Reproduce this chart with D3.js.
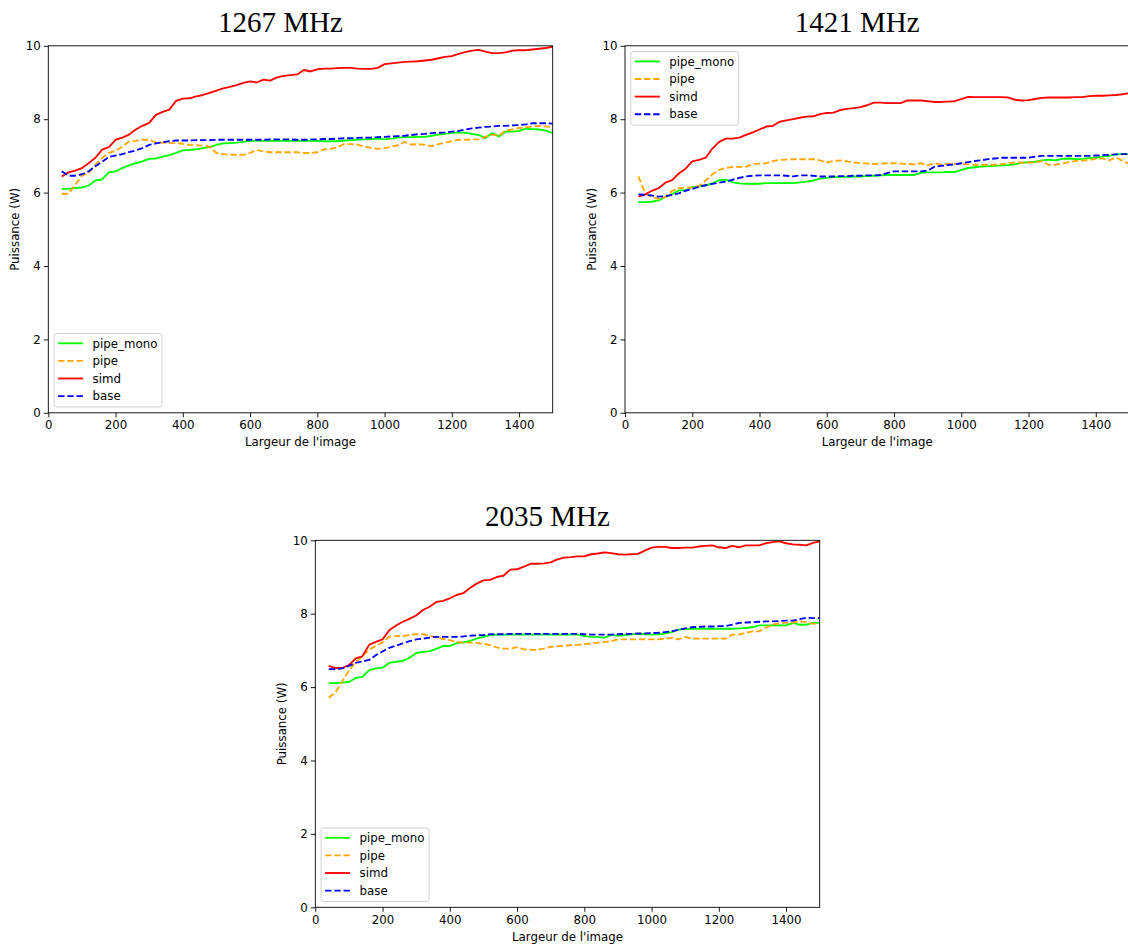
<!DOCTYPE html>
<html><head><meta charset="utf-8">
<script src="https://cdn.jsdelivr.net/npm/d3@7"></script>
<style>
html,body{margin:0;padding:0;background:#fff;}
svg{display:block;}
text{font-family:"DejaVu Sans",sans-serif;fill:#000;}
</style></head>
<body><svg id="chart" width="1128" height="946"></svg>
<script>
// ---- data ----
const largeurs = d3.range(40, 1501, 20); // image widths (x values)
const xTicks = [0, 200, 400, 600, 800, 1000, 1200, 1400];
const yTicks = [0, 2, 4, 6, 8, 10];
const seriesNames = ["pipe_mono", "pipe", "simd", "base"];
const titles = ["1267 MHz", "1421 MHz", "2035 MHz"];

const f1267_pipe_mono = [6.10,6.10,6.12,6.14,6.19,6.33,6.36,6.55,6.58,6.67,
 6.74,6.80,6.85,6.92,6.93,6.98,7.02,7.08,7.15,7.16,
 7.18,7.21,7.24,7.30,7.34,7.35,7.36,7.38,7.41,7.41,
 7.41,7.41,7.41,7.41,7.41,7.41,7.41,7.41,7.41,7.40,
 7.40,7.40,7.42,7.43,7.44,7.45,7.46,7.47,7.45,7.47,
 7.50,7.51,7.51,7.52,7.52,7.55,7.58,7.60,7.62,7.64,
 7.63,7.60,7.57,7.49,7.62,7.53,7.66,7.66,7.68,7.74,
 7.73,7.72,7.69,7.62];
const f1267_pipe = [5.97,5.97,6.21,6.46,6.53,6.76,6.94,7.08,7.14,7.25,
 7.39,7.41,7.44,7.44,7.37,7.36,7.35,7.35,7.33,7.30,
 7.29,7.28,7.25,7.08,7.05,7.03,7.03,7.03,7.08,7.16,
 7.12,7.10,7.10,7.10,7.10,7.10,7.08,7.08,7.10,7.18,
 7.19,7.24,7.32,7.32,7.31,7.25,7.22,7.19,7.21,7.25,
 7.29,7.38,7.31,7.32,7.30,7.27,7.32,7.36,7.40,7.44,
 7.44,7.45,7.45,7.52,7.58,7.55,7.69,7.72,7.76,7.78,
 7.80,7.82,7.80,7.79];
const f1267_simd = [6.44,6.55,6.60,6.67,6.80,6.95,7.17,7.24,7.44,7.50,
 7.58,7.72,7.82,7.90,8.12,8.20,8.26,8.50,8.56,8.57,
 8.62,8.66,8.72,8.78,8.84,8.88,8.93,8.99,9.03,9.00,
 9.08,9.05,9.14,9.18,9.20,9.22,9.34,9.30,9.36,9.38,
 9.38,9.39,9.40,9.40,9.38,9.37,9.37,9.40,9.50,9.52,
 9.54,9.56,9.57,9.58,9.60,9.62,9.66,9.70,9.72,9.78,
 9.83,9.87,9.89,9.84,9.80,9.80,9.82,9.87,9.88,9.88,
 9.90,9.92,9.94,9.98];
const f1267_base = [6.58,6.46,6.46,6.50,6.58,6.72,6.84,6.97,7.01,7.05,
 7.10,7.15,7.21,7.30,7.34,7.37,7.40,7.42,7.42,7.42,
 7.43,7.43,7.43,7.44,7.44,7.44,7.44,7.44,7.44,7.44,
 7.44,7.45,7.45,7.45,7.45,7.44,7.44,7.45,7.45,7.46,
 7.46,7.47,7.48,7.48,7.49,7.50,7.50,7.51,7.52,7.53,
 7.54,7.55,7.57,7.59,7.60,7.62,7.63,7.64,7.66,7.68,
 7.72,7.75,7.77,7.79,7.80,7.82,7.82,7.83,7.84,7.86,
 7.89,7.89,7.89,7.88];

const f1421_pipe_mono = [5.74,5.74,5.75,5.79,5.88,5.96,6.06,6.06,6.15,6.17,
 6.20,6.25,6.34,6.35,6.28,6.25,6.24,6.24,6.24,6.26,
 6.26,6.26,6.26,6.26,6.28,6.30,6.33,6.38,6.40,6.42,
 6.43,6.43,6.44,6.44,6.45,6.46,6.47,6.48,6.48,6.48,
 6.48,6.48,6.54,6.55,6.55,6.55,6.56,6.56,6.62,6.67,
 6.69,6.71,6.72,6.73,6.74,6.75,6.77,6.81,6.83,6.84,
 6.88,6.90,6.88,6.92,6.93,6.91,6.92,6.94,6.95,6.98,
 7.00,7.04,7.05,7.05];
const f1421_pipe = [6.44,5.98,5.88,5.83,5.88,6.05,6.12,6.13,6.14,6.18,
 6.33,6.50,6.62,6.67,6.70,6.70,6.70,6.78,6.79,6.80,
 6.86,6.89,6.90,6.91,6.91,6.91,6.91,6.88,6.82,6.86,
 6.88,6.85,6.82,6.81,6.79,6.78,6.79,6.80,6.80,6.79,
 6.78,6.77,6.80,6.74,6.80,6.76,6.78,6.78,6.78,6.77,
 6.76,6.76,6.76,6.76,6.77,6.80,6.82,6.82,6.82,6.82,
 6.86,6.76,6.76,6.79,6.83,6.86,6.87,6.89,6.92,6.93,
 6.88,6.96,6.86,6.78];
const f1421_simd = [5.89,5.95,6.05,6.12,6.27,6.34,6.52,6.65,6.85,6.89,
 6.95,7.20,7.38,7.47,7.47,7.50,7.57,7.64,7.72,7.80,
 7.82,7.93,7.97,8.00,8.04,8.07,8.08,8.14,8.17,8.18,
 8.25,8.28,8.30,8.33,8.38,8.45,8.45,8.44,8.44,8.44,
 8.51,8.51,8.51,8.49,8.47,8.47,8.48,8.49,8.55,8.61,
 8.60,8.60,8.60,8.60,8.60,8.59,8.53,8.51,8.52,8.55,
 8.58,8.59,8.59,8.59,8.59,8.60,8.60,8.63,8.64,8.64,
 8.65,8.66,8.68,8.71];
const f1421_base = [5.95,5.94,5.92,5.89,5.90,5.94,5.98,6.05,6.10,6.16,
 6.20,6.24,6.27,6.30,6.35,6.40,6.44,6.46,6.47,6.47,
 6.47,6.47,6.46,6.44,6.47,6.47,6.46,6.44,6.44,6.44,
 6.45,6.45,6.46,6.46,6.47,6.47,6.48,6.53,6.58,6.58,
 6.58,6.58,6.58,6.60,6.70,6.73,6.75,6.77,6.80,6.83,
 6.86,6.88,6.91,6.93,6.95,6.95,6.95,6.95,6.95,6.98,
 7.00,7.00,7.00,7.00,7.00,7.00,7.00,7.00,7.01,7.02,
 7.03,7.04,7.05,7.05];

const f2035_pipe_mono = [6.11,6.11,6.12,6.14,6.25,6.28,6.46,6.51,6.53,6.66,
 6.69,6.71,6.80,6.93,6.96,6.98,7.04,7.12,7.12,7.20,
 7.22,7.26,7.32,7.37,7.42,7.43,7.43,7.43,7.43,7.43,
 7.43,7.43,7.43,7.43,7.43,7.43,7.43,7.43,7.39,7.37,
 7.36,7.35,7.42,7.40,7.42,7.44,7.45,7.44,7.43,7.44,
 7.46,7.50,7.57,7.58,7.59,7.59,7.59,7.59,7.59,7.59,
 7.59,7.60,7.61,7.63,7.68,7.68,7.68,7.68,7.68,7.75,
 7.70,7.70,7.75,7.75];
const f2035_pipe = [5.71,5.85,6.16,6.45,6.68,6.84,7.02,7.12,7.22,7.37,
 7.39,7.39,7.42,7.44,7.44,7.40,7.35,7.31,7.28,7.23,
 7.21,7.21,7.20,7.19,7.14,7.08,7.05,7.05,7.09,7.03,
 7.02,7.01,7.05,7.10,7.11,7.13,7.14,7.15,7.17,7.19,
 7.21,7.23,7.25,7.30,7.30,7.30,7.30,7.30,7.30,7.30,
 7.32,7.34,7.30,7.37,7.32,7.32,7.32,7.32,7.32,7.32,
 7.43,7.43,7.48,7.52,7.52,7.62,7.70,7.74,7.75,7.76,
 7.79,7.77,7.73,7.73];
const f2035_simd = [6.58,6.52,6.52,6.60,6.78,6.84,7.15,7.23,7.30,7.55,
 7.68,7.78,7.86,7.95,8.10,8.19,8.32,8.35,8.42,8.51,
 8.56,8.70,8.82,8.91,8.92,9.00,9.04,9.20,9.21,9.28,
 9.36,9.36,9.37,9.40,9.48,9.53,9.54,9.56,9.56,9.62,
 9.64,9.67,9.65,9.62,9.61,9.62,9.63,9.72,9.80,9.82,
 9.82,9.79,9.79,9.80,9.80,9.83,9.85,9.86,9.81,9.79,
 9.85,9.81,9.86,9.86,9.86,9.92,9.95,9.97,9.92,9.89,
 9.88,9.86,9.93,9.97];
const f2035_base = [6.49,6.49,6.51,6.58,6.66,6.70,6.74,6.87,6.97,7.07,
 7.13,7.19,7.25,7.30,7.32,7.35,7.37,7.37,7.37,7.37,
 7.38,7.40,7.41,7.42,7.44,7.44,7.44,7.45,7.45,7.45,
 7.45,7.45,7.45,7.45,7.45,7.45,7.45,7.45,7.44,7.43,
 7.43,7.43,7.43,7.44,7.45,7.45,7.46,7.46,7.47,7.48,
 7.50,7.52,7.56,7.60,7.63,7.64,7.65,7.65,7.66,7.66,
 7.70,7.75,7.76,7.77,7.78,7.79,7.79,7.80,7.81,7.81,
 7.85,7.89,7.88,7.88];

// ---- styles & layout ----
const seriesStyle = {
  pipe_mono: {color: "#00ff00", dash: null},
  pipe:      {color: "#ffa500", dash: "6.4,2.8"},
  simd:      {color: "#ff0000", dash: null},
  base:      {color: "#0000ff", dash: "6.4,2.8"}
};
const panels = [
  {title: titles[0], data: [f1267_pipe_mono, f1267_pipe, f1267_simd, f1267_base],
   left: 48.3, right: 552.7, top: 45.8, bottom: 412.8, legend: "lower"},
  {title: titles[1], data: [f1421_pipe_mono, f1421_pipe, f1421_simd, f1421_base],
   left: 625.0, right: 1129.4, top: 45.8, bottom: 412.8, legend: "upper"},
  {title: titles[2], data: [f2035_pipe_mono, f2035_pipe, f2035_simd, f2035_base],
   left: 315.3, right: 819.7, top: 540.3, bottom: 907.3, legend: "lower"}
];

const svg = d3.select("#chart");
const FS = 11.8;
const LW = 1.85;

panels.forEach((p, pi) => {
  const x = d3.scaleLinear().domain([0, 1500]).range([p.left, p.right]);
  const y = d3.scaleLinear().domain([0, 10]).range([p.bottom, p.top]);
  const g = svg.append("g");

  const clipId = "clip" + pi;
  svg.append("clipPath").attr("id", clipId).append("rect")
    .attr("x", p.left).attr("y", p.top).attr("width", p.right - p.left).attr("height", p.bottom - p.top);

  // lines
  const lg = g.append("g").attr("clip-path", `url(#${clipId})`);
  seriesNames.forEach((name, si) => {
    const vals = p.data[si];
    const pts = largeurs.map((xv, i) => [xv, vals[i]]);
    const line = d3.line().x(d => x(d[0])).y(d => y(d[1]));
    lg.append("path").datum(pts)
      .attr("d", line)
      .attr("fill", "none")
      .attr("stroke", seriesStyle[name].color)
      .attr("stroke-width", LW)
      .attr("stroke-linejoin", "round")
      .attr("stroke-dasharray", seriesStyle[name].dash);
  });

  // axes
  const xAxis = d3.axisBottom(x).tickValues(xTicks).tickSize(4.5).tickPadding(3.5).tickFormat(d3.format("d"));
  const yAxis = d3.axisLeft(y).tickValues(yTicks).tickSize(4.5).tickPadding(3.5).tickFormat(d3.format("d"));
  const gx = g.append("g").attr("transform", `translate(0,${p.bottom})`).call(xAxis);
  const gy = g.append("g").attr("transform", `translate(${p.left},0)`).call(yAxis);
  [gx, gy].forEach(a => {
    a.selectAll("text").style("font-family", '"DejaVu Sans", sans-serif').style("font-size", FS + "px").attr("fill", "#000");
    a.selectAll("line").attr("stroke", "#000").attr("stroke-width", 0.9);
    a.select(".domain").remove();
  });
  gy.selectAll("text").attr("x", -7.5);

  // spines
  g.append("rect").attr("x", p.left).attr("y", p.top)
    .attr("width", p.right - p.left).attr("height", p.bottom - p.top)
    .attr("fill", "none").attr("stroke", "#000").attr("stroke-width", 0.9);

  // axis labels
  g.append("text").attr("x", (p.left + p.right) / 2).attr("y", p.bottom + 33.5)
    .attr("text-anchor", "middle").style("font-size", FS + "px").text("Largeur de l'image");
  g.append("text")
    .attr("transform", `translate(${p.left - 29.5},${(p.top + p.bottom) / 2}) rotate(-90)`)
    .attr("text-anchor", "middle").style("font-size", FS + "px").text("Puissance (W)");

  // title
  g.append("text").attr("x", (p.left + p.right) / 2 - 20).attr("y", p.top - 14)
    .attr("text-anchor", "middle")
    .style("font-family", '"Liberation Serif", "DejaVu Serif", serif')
    .style("font-size", "29px").text(p.title);

  // legend
  const lw = 108, lh = 73.5;
  const lx = p.left + 5.8;
  const ly = p.legend === "upper" ? p.top + 5.8 : p.bottom - 5.8 - lh;
  const leg = g.append("g").attr("transform", `translate(${lx},${ly})`);
  leg.append("rect").attr("width", lw).attr("height", lh).attr("rx", 2.5)
    .attr("fill", "#fff").attr("fill-opacity", 0.8).attr("stroke", "#cccccc").attr("stroke-width", 0.9);
  seriesNames.forEach((name, si) => {
    const cy = 9.8 + si * 17.6;
    leg.append("line").attr("x1", 4).attr("x2", 29).attr("y1", cy).attr("y2", cy)
      .attr("stroke", seriesStyle[name].color).attr("stroke-width", LW)
      .attr("stroke-dasharray", seriesStyle[name].dash);
    leg.append("text").attr("x", 38.5).attr("y", cy + 4.2).style("font-size", FS + "px").text(name);
  });
});
</script></body></html>
